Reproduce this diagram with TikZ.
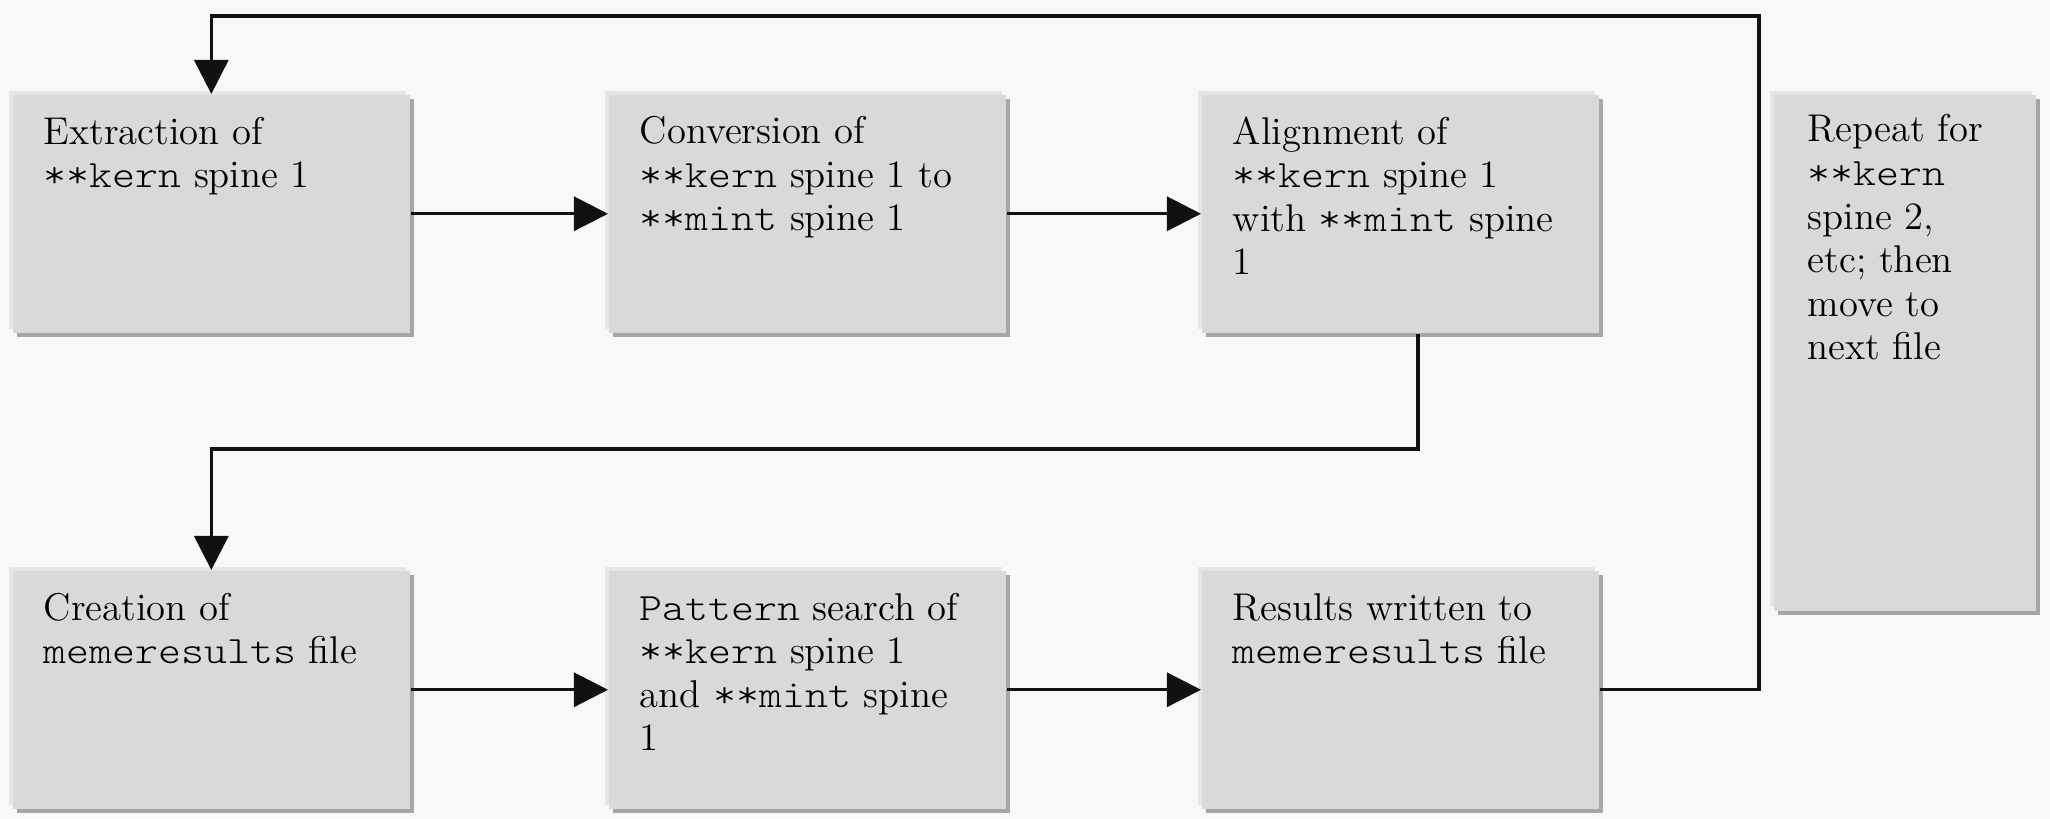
\documentclass[tikz,border=0pt]{standalone}
\usepackage{fontspec}
\setmonofont{lmmonolt10-regular.otf}[FakeStretch=1.13]
\usetikzlibrary{arrows.meta,shadows}
\definecolor{bgc}{HTML}{F8F8F8}
\definecolor{boxc}{HTML}{D9D9D9}
\definecolor{shadc}{HTML}{A6A6A6}
\definecolor{lightc}{HTML}{E6E6E6}
\definecolor{linec}{HTML}{111111}
\tikzset{
  procbox/.style={anchor=north west, inner sep=0pt, fill=boxc,
    general shadow={shadow xshift=0.04cm, shadow yshift=-0.045cm, fill=shadc},
    general shadow={shadow xshift=-0.035cm, shadow yshift=0.04cm, fill=lightc},
    minimum width=3.97cm, minimum height=2.38cm},
  txt/.style={anchor=base west, align=left, inner sep=0pt,
    font=\fontsize{11}{12.4}\selectfont},
  conn/.style={draw=linec, line width=0.9pt},
  arr/.style={conn, -{Triangle[width=0.34cm,length=0.34cm]}}
}
\begin{document}
\begin{tikzpicture}[x=0.01cm,y=-0.01cm]
\fill[bgc] (0,0) rectangle (2050,819);
\useasboundingbox (0,0) rectangle (2050,819);
% boxes
\node[procbox] (b1) at (12,94) {};
\node[procbox] (b2) at (608,94) {};
\node[procbox] (b3) at (1201,94) {};
\node[procbox, minimum width=2.62cm, minimum height=5.16cm] (b4) at (1773,94) {};
\node[procbox] (b5) at (12,570) {};
\node[procbox] (b6) at (608,570) {};
\node[procbox] (b7) at (1201,570) {};
% texts (anchor = baseline of the last line)
\node[txt] (t1) at (43,188) {Extraction of\\\texttt{**kern} spine 1};
\node[txt] (t2) at (639,231) {Conversion of\\\texttt{**kern} spine 1 to\\\texttt{**mint} spine 1};
\node[txt] (t3) at (1232,275) {Alignment of\\\texttt{**kern} spine 1\\with \texttt{**mint} spine\\1};
\node[txt] (t4) at (1807,360) {Repeat for\\\texttt{**kern}\\spine 2,\\etc; then\\move to\\next file};
\node[txt] (t5) at (43,664) {Creation of\\\texttt{memeresults} file};
\node[txt] (t6) at (639,751) {\texttt{Pattern} search of\\\texttt{**kern} spine 1\\and \texttt{**mint} spine\\1};
\node[txt] (t7) at (1232,664) {Results written to\\\texttt{memeresults} file};
% connectors
\coordinate (tr) at (1759,16);
\coordinate (mid) at (1418,449);
\draw[arr] (b1.east) -- (b2.west);
\draw[arr] (b2.east) -- (b3.west);
\draw[arr] (b5.east) -- (b6.west);
\draw[arr] (b6.east) -- (b7.west);
\draw[arr] (b3.south -| mid) -- (mid) -| (b5.north);
\draw[arr] (b7.east) -| (tr) -| (b1.north);
\end{tikzpicture}
\end{document}
